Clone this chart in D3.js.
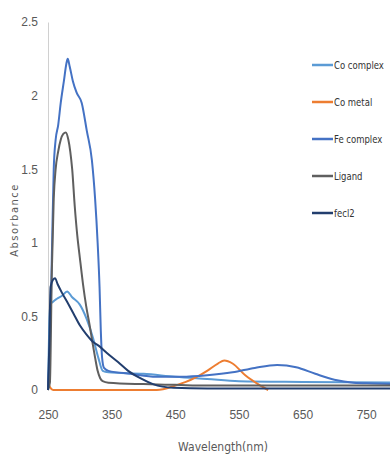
<!DOCTYPE html>
<html>
<head>
<meta charset="utf-8">
<script src="https://cdn.jsdelivr.net/npm/d3@7"></script>
<style>
  body { margin: 0; background: #fff; }
  svg { display: block; font-family: "DejaVu Sans", sans-serif; font-stretch: condensed; }
</style>
</head>
<body>
<div id="chart"></div>
<script>
// tick labels
const xTicks = [250, 350, 450, 550, 650, 750];
const yTicks = [0, 0.5, 1, 1.5, 2, 2.5];

// series names and colours (legend order)
const seriesNames = ['Co complex', 'Co metal', 'Fe complex', 'Ligand', 'fecl2'];
const seriesColors = ['#5B9BD5', '#ED7D31', '#4472C4', '#5F5F5F', '#223E6E'];

// wavelength (nm) / absorbance pairs
const coComplexNm  = [250, 252, 254, 258, 264, 272, 280, 288, 300, 311, 321, 329, 336, 345, 400, 450, 500, 550, 650, 800];
const coComplexAbs = [0.0, 0.45, 0.58, 0.6, 0.62, 0.64, 0.67, 0.63, 0.58, 0.48, 0.35, 0.22, 0.13, 0.12, 0.11, 0.09, 0.075, 0.06, 0.055, 0.05];

const coMetalNm  = [250, 253, 258, 300, 421, 450, 480, 500, 517, 527, 540, 560, 580, 596];
const coMetalAbs = [0.06, 0.02, 0.0, 0.0, 0.0, 0.03, 0.08, 0.13, 0.18, 0.2, 0.18, 0.1, 0.04, 0.0];

const feComplexNm  = [250, 253, 256, 259, 262, 266, 270, 275, 279, 281, 284, 289, 295, 303, 311, 319, 324, 328, 331, 333, 335, 338, 345, 380, 420, 460, 500, 540, 575, 610, 640, 670, 700, 730, 760, 800];
const feComplexAbs = [0.02, 0.3, 0.9, 1.5, 1.7, 1.8, 1.95, 2.1, 2.22, 2.25, 2.2, 2.1, 2.02, 1.95, 1.76, 1.56, 1.3, 1.0, 0.7, 0.4, 0.22, 0.15, 0.13, 0.11, 0.09, 0.09, 0.1, 0.12, 0.15, 0.17, 0.155, 0.11, 0.07, 0.05, 0.045, 0.04];

const ligandNm  = [250, 253, 256, 259, 262, 266, 270, 274, 278, 282, 285, 288, 292, 296, 300, 305, 310, 315, 320, 324, 328, 332, 336, 345, 400, 450, 500, 800];
const ligandAbs = [0.0, 0.05, 0.8, 1.3, 1.5, 1.62, 1.7, 1.74, 1.75, 1.7, 1.62, 1.5, 1.25, 1.05, 0.9, 0.72, 0.57, 0.45, 0.32, 0.22, 0.13, 0.08, 0.06, 0.05, 0.04, 0.035, 0.03, 0.03];

const fecl2Nm  = [250, 252, 254, 258, 261, 265, 272, 280, 290, 300, 310, 320, 330, 343, 360, 376, 395, 415, 447, 500, 800];
const fecl2Abs = [0.0, 0.3, 0.7, 0.75, 0.76, 0.72, 0.66, 0.6, 0.52, 0.44, 0.38, 0.33, 0.3, 0.25, 0.19, 0.13, 0.08, 0.04, 0.015, 0.01, 0.01];

const seriesNm = [coComplexNm, coMetalNm, feComplexNm, ligandNm, fecl2Nm];
const seriesAbs = [coComplexAbs, coMetalAbs, feComplexAbs, ligandAbs, fecl2Abs];

const width = 390;
const height = 456;
const margin = { top: 22, left: 48 };

const svg = d3.select('#chart')
    .append('svg')
    .attr('width', width)
    .attr('height', height);

const xScale = d3.scaleLinear()
    .domain([250, 800])
    .range([margin.left, 398]);

const yScale = d3.scaleLinear()
    .domain([0, 2.5])
    .range([390, margin.top]);

// y axis: grey line, no ticks
const yAxis = svg.append('g')
    .attr('transform', `translate(${margin.left}, 0)`)
    .call(d3.axisLeft(yScale).tickValues(yTicks).tickSize(0).tickPadding(10).tickFormat(d3.format('')));
yAxis.select('.domain').attr('stroke', '#d0d0d0');
yAxis.selectAll('text')
    .attr('fill', '#595959')
    .style('font-size', '12px');

// x axis: labels only
const xAxis = svg.append('g')
    .attr('transform', 'translate(0, 404)')
    .call(d3.axisBottom(xScale).tickValues(xTicks).tickSize(0).tickPadding(6).tickFormat(d3.format('d')));
xAxis.select('.domain').remove();
xAxis.selectAll('text')
    .attr('fill', '#595959')
    .style('font-size', '12px');

// axis titles
svg.append('text')
    .attr('x', 223)
    .attr('y', 451)
    .attr('text-anchor', 'middle')
    .attr('fill', '#595959')
    .style('font-size', '12px')
    .text('Wavelength(nm)');

svg.append('text')
    .attr('transform', 'translate(18, 220) rotate(-90)')
    .attr('text-anchor', 'middle')
    .attr('fill', '#595959')
    .style('font-size', '11px')
    .style('letter-spacing', '1.5px')
    .text('Absorbance');

// lines
const line = d3.line()
    .x(d => xScale(d[0]))
    .y(d => yScale(d[1]))
    .curve(d3.curveMonotoneX);

seriesNames.forEach((name, i) => {
    const pts = seriesNm[i].map((nm, j) => [nm, seriesAbs[i][j]]);
    svg.append('path')
        .datum(pts)
        .attr('fill', 'none')
        .attr('stroke', seriesColors[i])
        .attr('stroke-width', 2)
        .attr('stroke-linejoin', 'round')
        .attr('d', line);
});

// legend
const legend = svg.append('g')
    .attr('transform', 'translate(312, 65)');

seriesNames.forEach((name, i) => {
    const row = legend.append('g')
        .attr('transform', `translate(0, ${i * 37})`);
    row.append('line')
        .attr('x1', 0)
        .attr('x2', 21)
        .attr('stroke', seriesColors[i])
        .attr('stroke-width', 2.5);
    row.append('text')
        .attr('transform', 'translate(22, 0) scale(0.86, 1)')
        .attr('dy', '0.35em')
        .attr('fill', '#333')
        .style('font-size', '11px')
        .text(name);
});
</script>
</body>
</html>
